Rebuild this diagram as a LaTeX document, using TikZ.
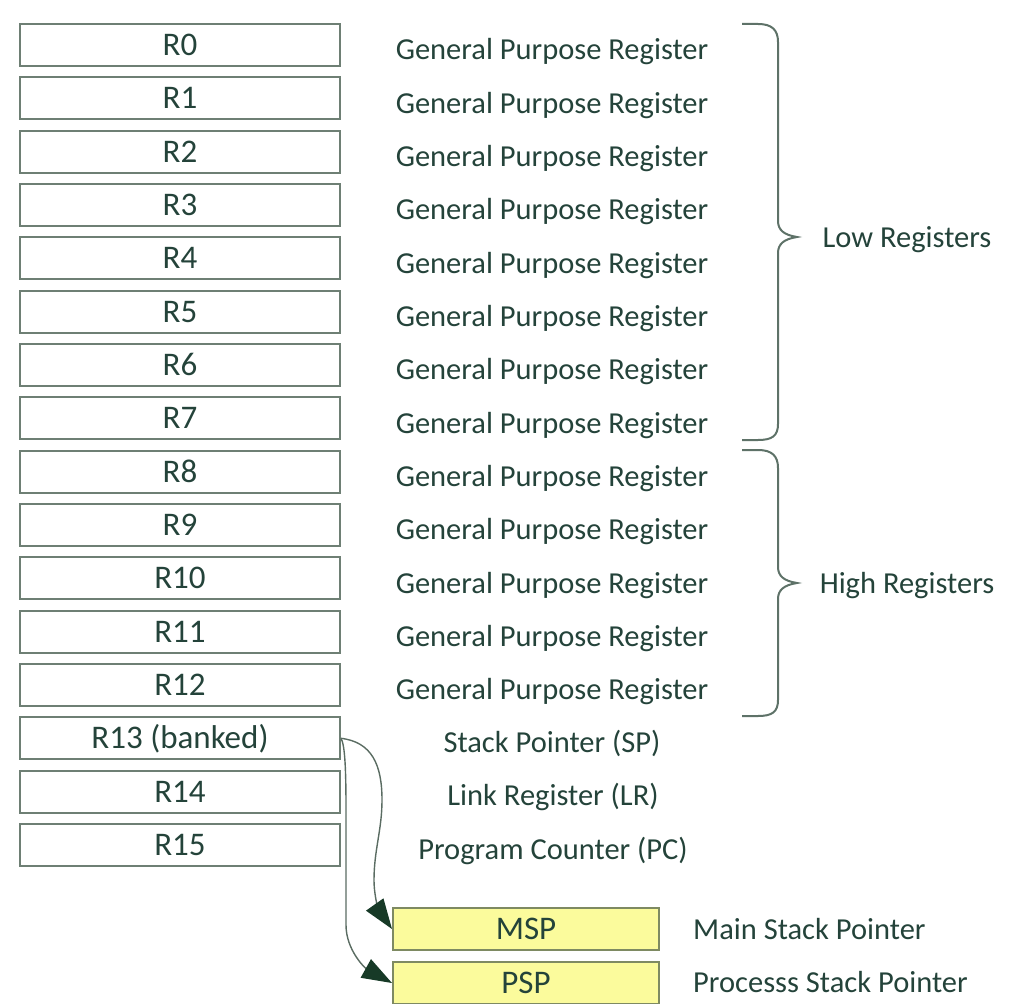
\documentclass[tikz,border=0pt]{standalone}
\usepackage{fontspec}
\setmainfont{Carlito}
\usetikzlibrary{arrows.meta}
\definecolor{txt}{HTML}{24433A}
\definecolor{boxline}{HTML}{6E7F74}
\definecolor{yel}{HTML}{FBFB9C}
\definecolor{yelline}{HTML}{7E8A62}
\definecolor{arr}{HTML}{173A27}
\definecolor{arrline}{HTML}{5A6C62}
\definecolor{brc}{HTML}{5E7268}
\begin{document}
\begin{tikzpicture}[x=1pt,y=-1pt,
  font=\fontsize{30.5}{34}\selectfont, text=txt,
  regbox/.style={draw=boxline, line width=2pt, minimum width=320pt, minimum height=42pt, inner sep=0pt, text height=21pt, text depth=0pt, font=\fontsize{33}{36}\selectfont},
  stbox/.style={draw=yelline, fill=yel, line width=2pt, minimum width=266pt, minimum height=42pt, inner sep=0pt, text height=21pt, text depth=0pt, font=\fontsize{33}{36}\selectfont},
  desc/.style={inner sep=0pt, text height=19.5pt, text depth=0pt},
  bracepath/.style={draw=brc, line width=2pt},
  conn/.style={draw=arrline, line width=1.4pt, -{Triangle[length=30pt,width=21pt,color=arr]}}
]
\useasboundingbox (0,0) rectangle (1024,1003);
\clip (0,0) rectangle (1024,1003);
\foreach \i in {0,...,12}{
  \pgfmathsetmacro{\yy}{45+\i*53.33}
  \pgfmathsetmacro{\yd}{50+\i*53.33}
  \node[regbox] (r\i) at (180,\yy) {R\i};
  \node[desc] (d\i) at (552,\yd) {General Purpose Register};
}
\node[regbox] (r13) at (180,738.3) {R13 (banked)};
\node[regbox] (r14) at (180,791.6) {R14};
\node[regbox] (r15) at (180,845) {R15};
\node[desc] (d13) at (552,743) {Stack Pointer (SP)};
\node[desc] (d14) at (553,796) {Link Register (LR)};
\node[desc] (d15) at (553,850) {Program Counter (PC)};
\node[stbox] (msp) at (526,929) {MSP};
\node[stbox] (psp) at (526,983) {PSP};
\node[desc, anchor=west] (dmsp) at (693,930) {Main Stack Pointer};
\node[desc, anchor=west] (dpsp) at (693,983) {Processs Stack Pointer};
% braces
\draw[bracepath] (742,24) -- (758,24) .. controls (772,24) and (778,30) .. (778,42) -- (778,221) .. controls (778,230) and (784,235) .. (797,237) .. controls (784,239) and (778,244) .. (778,253) -- (778,424) .. controls (778,436) and (772,440) .. (758,440) -- (742,440);
\draw[bracepath] (742,450) -- (758,450) .. controls (772,450) and (778,456) .. (778,468) -- (778,567) .. controls (778,576) and (784,581) .. (797,583) .. controls (784,585) and (778,590) .. (778,599) -- (778,700) .. controls (778,712) and (772,716) .. (758,716) -- (742,716);
\node[desc] (low) at (907,238) {Low Registers};
\node[desc] (high) at (907,584) {High Registers};
% connectors
\draw[conn] (r13.east) .. controls (372,742) and (382,765) .. (382,800) .. controls (382,830) and (374,850) .. (374,880) .. controls (374,898) and (380,912) .. (msp.west);
\draw[conn] (r13.east) .. controls (345,745) and (346,770) .. (346,810) -- (346,925) .. controls (346,950) and (365,968) .. (psp.west);
\end{tikzpicture}
\end{document}
